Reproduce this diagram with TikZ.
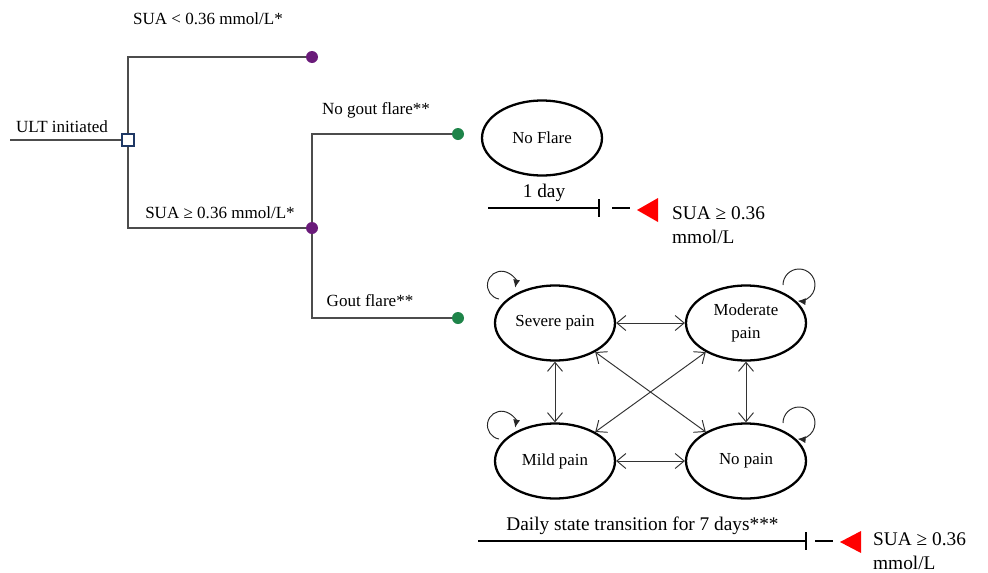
\documentclass[tikz,border=0pt]{standalone}
\usepackage{fontspec}
\setmainfont{Liberation Serif}
\usepackage{xcolor}
\usetikzlibrary{arrows.meta,shapes.geometric}
\definecolor{dotpurple}{HTML}{6A1B7A}
\definecolor{dotgreen}{HTML}{1E8449}
\definecolor{sqblue}{HTML}{1F3864}

\begin{document}
\begin{tikzpicture}[x=0.02cm,y=-0.02cm,
    treeline/.style={draw=black!70, line width=0.6pt},
    dot/.style={circle, inner sep=0pt, minimum size=2.4mm},
    lbl/.style={font=\fontsize{9.7}{11.6}\selectfont},
    big/.style={font=\fontsize{11}{13.5}\selectfont},
    state/.style={ellipse, draw, line width=1.3pt, inner sep=0pt, minimum width=2.4cm, minimum height=1.5cm,
      align=center, font=\fontsize{9.6}{13}\selectfont},
    trans/.style={draw=black!80, line width=0.55pt, <->, >={Straight Barb[length=1.8mm,width=3mm]}},
    selfloop/.style={draw=black!85, line width=0.55pt, -{Latex[length=1.6mm,width=1.4mm]}},
    timeline/.style={draw, line width=1.1pt}]
    \useasboundingbox (0,0) rectangle (988,572);

    %decision tree
    \coordinate (start) at (10,140);
    \node[draw=sqblue, fill=white, line width=1.2pt, inner sep=0pt, minimum size=2.4mm] (ult) at (128,140) {};
    \node[dot, fill=dotpurple] (low) at (312,57) {};
    \node[dot, fill=dotpurple] (high) at (312,228) {};
    \node[dot, fill=dotgreen] (noflare) at (458,134) {};
    \node[dot, fill=dotgreen] (flare) at (458,318) {};

    \path[treeline] (start)--(ult);
    \path[treeline] (ult)|-(low);
    \path[treeline] (ult)|-(high);
    \path[treeline] (high)|-(noflare);
    \path[treeline] (high)|-(flare);

    \node[lbl] (ultlbl) at (62,127) {ULT initiated};
    \node[lbl] (lowlbl) at (208,19) {SUA < 0.36 mmol/L*};
    \node[lbl] (highlbl) at (220,213) {SUA ≥ 0.36 mmol/L*};
    \node[lbl] (noflarelbl) at (376,110) {No gout flare**};
    \node[lbl] (flarelbl) at (370,301) {Gout flare**};

    %states
    \node[state] (nofl) at (542,138) {No Flare};
    \node[state] (sev) at (555,323) {Severe pain};
    \node[state] (mod) at (746,323) {Moderate\\pain};
    \node[state] (mild) at (555,461) {Mild pain};
    \node[state] (nop) at (746,461) {No pain};

    \path[trans] (sev)--(mod);
    \path[trans] (mild)--(nop);
    \path[trans] (sev)--(mild);
    \path[trans] (mod)--(nop);
    \path[trans] (sev)--(nop);
    \path[trans] (mod)--(mild);

    \path[selfloop] ([shift={(-56,-24)}]sev.center) arc[start angle=-100, end angle=-370, radius=0.28cm];
    \path[selfloop] ([shift={(-56,-22)}]mild.center) arc[start angle=-100, end angle=-370, radius=0.28cm];
    \path[selfloop] ([shift={(37,-38)}]mod.center) arc[start angle=180, end angle=-95, radius=0.32cm];
    \path[selfloop] ([shift={(37,-38)}]nop.center) arc[start angle=180, end angle=-95, radius=0.32cm];

    %one day
    \coordinate (dayS) at (488,208);
    \coordinate (dayE) at (600,208);
    \coordinate (dashS) at (612,208);
    \coordinate (dashE) at (630,208);
    \coordinate (tipA) at (637,210);
    \path[timeline, -{Bar[width=3.6mm]}] (dayS)-- node[big, above] (daylbl) {1 day} (dayE);
    \path[timeline] (dashS)--(dashE);
    \fill[red] (tipA) -- ++(21,-12) -- ++(0,24) -- cycle;
    \node[big, anchor=west, align=left] (sua1) at (666,225) {SUA ≥ 0.36\\mmol/L};

    %seven days
    \coordinate (weekS) at (478,541);
    \coordinate (weekE) at (807,541);
    \coordinate (dashS2) at (815,541);
    \coordinate (dashE2) at (833,541);
    \coordinate (tipB) at (840,542);
    \path[timeline, -{Bar[width=3.6mm]}] (weekS)-- node[big, above] (weeklbl) {Daily state transition for 7 days***} (weekE);
    \path[timeline] (dashS2)--(dashE2);
    \fill[red] (tipB) -- ++(21,-11) -- ++(0,22) -- cycle;
    \node[big, anchor=west, align=left] (sua2) at (867,551) {SUA ≥ 0.36\\mmol/L};
\end{tikzpicture}
\end{document}
